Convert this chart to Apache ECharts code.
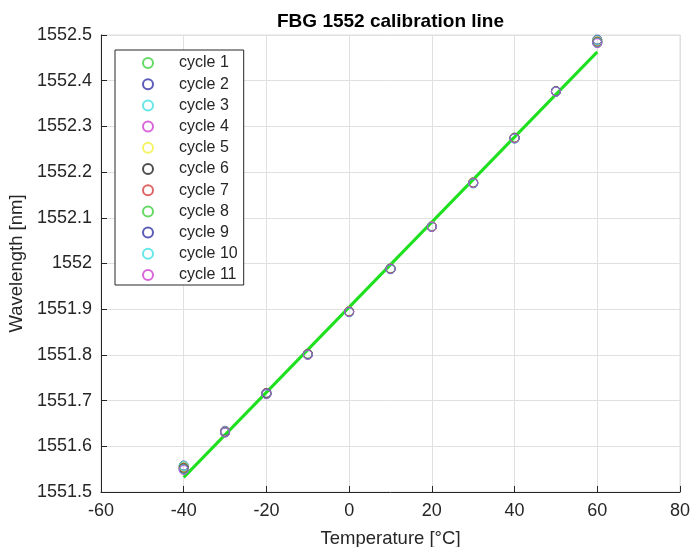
<!DOCTYPE html>
<html>
<head>
<meta charset="utf-8">
<script src="https://cdn.jsdelivr.net/npm/echarts@6/dist/echarts.min.js"></script>
<style>html,body{margin:0;padding:0;background:#fff;}#c{width:691px;height:547px;}</style>
</head>
<body>
<div id="c"></div>
<script>
const temps = [-40, -30, -20, -10, 0, 10, 20, 30, 40, 50, 60];
const cycleNames = ['cycle 1','cycle 2','cycle 3','cycle 4','cycle 5','cycle 6','cycle 7','cycle 8','cycle 9','cycle 10','cycle 11'];
const cycleColors = ['#3fd03f','#3333a8','#40e0e0','#d040d0','#f0f040','#222222','#d84040','#3fd03f','#3333a8','#40e0e0','#d040d0'];
const cycle1  = [1551.556, 1551.633, 1551.717, 1551.803, 1551.896, 1551.990, 1552.082, 1552.178, 1552.276, 1552.378, 1552.489];
const cycle2  = [1551.558, 1551.634, 1551.717, 1551.802, 1551.895, 1551.989, 1552.081, 1552.177, 1552.275, 1552.377, 1552.490];
const cycle3  = [1551.557, 1551.633, 1551.716, 1551.802, 1551.895, 1551.989, 1552.082, 1552.177, 1552.275, 1552.377, 1552.488];
const cycle4  = [1551.553, 1551.632, 1551.716, 1551.801, 1551.894, 1551.988, 1552.081, 1552.176, 1552.274, 1552.376, 1552.486];
const cycle5  = [1551.554, 1551.632, 1551.715, 1551.802, 1551.895, 1551.989, 1552.081, 1552.177, 1552.275, 1552.377, 1552.486];
const cycle6  = [1551.553, 1551.631, 1551.715, 1551.801, 1551.894, 1551.988, 1552.080, 1552.176, 1552.274, 1552.376, 1552.485];
const cycle7  = [1551.552, 1551.632, 1551.716, 1551.802, 1551.895, 1551.989, 1552.081, 1552.177, 1552.275, 1552.377, 1552.485];
const cycle8  = [1551.551, 1551.631, 1551.715, 1551.801, 1551.894, 1551.988, 1552.080, 1552.176, 1552.274, 1552.376, 1552.484];
const cycle9  = [1551.550, 1551.631, 1551.715, 1551.801, 1551.894, 1551.988, 1552.080, 1552.176, 1552.274, 1552.377, 1552.483];
const cycle10 = [1551.549, 1551.630, 1551.714, 1551.800, 1551.893, 1551.987, 1552.080, 1552.175, 1552.273, 1552.376, 1552.483];
const cycle11 = [1551.548, 1551.630, 1551.714, 1551.800, 1551.894, 1551.988, 1552.080, 1552.176, 1552.274, 1552.376, 1552.482];
const cycles = [cycle1, cycle2, cycle3, cycle4, cycle5, cycle6, cycle7, cycle8, cycle9, cycle10, cycle11];
const fitX = [-40, 60];
const fitY = [1551.532, 1552.463];

const FONT = "'Liberation Sans', Arial, Helvetica, sans-serif";
const chart = echarts.init(document.getElementById('c'), null, {renderer: 'canvas'});

const series = [{
  name: 'fit',
  type: 'line',
  data: fitX.map((x, i) => [x, fitY[i]]),
  symbol: 'none',
  lineStyle: {color: '#1ee01e', width: 3},
  z: 1,
  silent: true
}];
cycles.forEach((vals, k) => {
  series.push({
    name: cycleNames[k],
    type: 'scatter',
    data: temps.map((t, i) => [t, vals[i]]),
    symbol: 'circle',
    symbolSize: 9,
    itemStyle: {color: 'rgba(255,255,255,0)', borderColor: cycleColors[k], borderWidth: 1},
    z: 2 + k
  });
});

chart.setOption({
  animation: false,
  backgroundColor: '#fff',
  title: {
    text: 'FBG 1552 calibration line',
    left: 277,
    top: 12,
    padding: 0,
    textStyle: {fontFamily: FONT, fontSize: 19, fontWeight: 'bold', color: '#000'}
  },
  grid: {left: 101, right: 11, top: 35, bottom: 55, outerBoundsMode: 'none', containLabel: false,
    show: true, borderColor: '#dcdcdc', borderWidth: 1},
  legend: {
    data: cycleNames,
    orient: 'vertical',
    left: 115,
    top: 50,
    icon: 'circle',
    itemWidth: 10,
    itemHeight: 10,
    itemGap: 5.2,
    padding: [5, 6, 2, 27],
    borderColor: '#262626',
    borderWidth: 1,
    backgroundColor: '#fff',
    textStyle: {fontFamily: FONT, fontSize: 16, color: '#262626', lineHeight: 16, padding: [0, 0, 0, 21]}
  },
  xAxis: {
    type: 'value',
    min: -60, max: 80, interval: 20,
    name: 'Temperature [°C]',
    nameLocation: 'middle',
    nameGap: 37,
    nameTextStyle: {fontFamily: FONT, fontSize: 18.5, color: '#262626'},
    axisLine: {onZero: false, lineStyle: {color: '#262626', width: 1}},
    axisTick: {inside: true, length: 6, lineStyle: {color: '#262626'}},
    axisLabel: {fontFamily: FONT, fontSize: 18, color: '#262626', margin: 10},
    splitLine: {show: true, lineStyle: {color: '#e0e0e0', width: 1}}
  },
  yAxis: {
    type: 'value',
    min: 1551.5, max: 1552.5, interval: 0.1,
    name: 'Wavelength [nm]',
    nameLocation: 'middle',
    nameGap: 62,
    nameTextStyle: {fontFamily: FONT, fontSize: 18.5, color: '#262626'},
    axisLine: {show: true, onZero: false, lineStyle: {color: '#262626', width: 1}},
    axisTick: {show: true, inside: true, length: 6, lineStyle: {color: '#262626'}},
    axisLabel: {fontFamily: FONT, fontSize: 18, color: '#262626', margin: 9,
      formatter: v => String(Number(v.toFixed(1)))},
    splitLine: {show: true, lineStyle: {color: '#e0e0e0', width: 1}}
  },
  series: series
});
</script>
</body>
</html>
